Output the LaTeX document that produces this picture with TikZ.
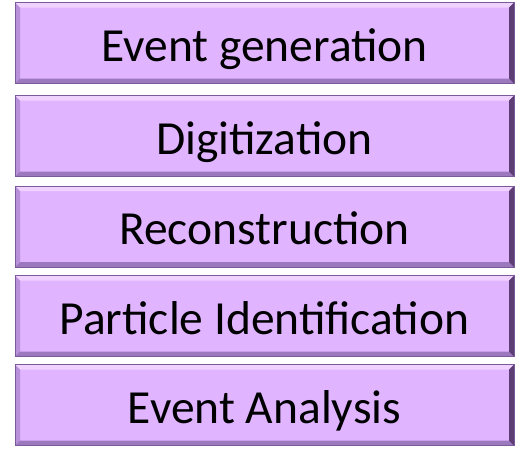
\documentclass[tikz,border=0pt]{standalone}
\usepackage{fontspec}
\setmainfont{Carlito}
\usetikzlibrary{calc}
\definecolor{boxfill}{HTML}{E0B4FF}
\definecolor{beveltop}{HTML}{F0D2FF}
\definecolor{bevelleft}{HTML}{B890DA}
\definecolor{bevelbottom}{HTML}{9C78BE}
\definecolor{bevelright}{HTML}{5C3E74}
\definecolor{boxedge}{HTML}{7A5A98}
\tikzset{
  stagebox/.style={
    rectangle, minimum width=499pt, minimum height=81pt, inner sep=0pt,
    text height=36pt, text depth=0pt,
    fill=boxfill, draw=boxedge, line width=0.6pt,
    font=\fontsize{47.5}{52}\selectfont, text=black,
    path picture={
      \path (path picture bounding box.north west) coordinate (pnw)
            (path picture bounding box.north east) coordinate (pne)
            (path picture bounding box.south west) coordinate (psw)
            (path picture bounding box.south east) coordinate (pse);
      \fill[beveltop] (pnw) -- (pne) -- ($(pne)+(-5pt,-5pt)$) -- ($(pnw)+(5pt,-5pt)$) -- cycle;
      \fill[bevelleft] (pnw) -- ($(pnw)+(5pt,-5pt)$) -- ($(psw)+(5pt,5pt)$) -- (psw) -- cycle;
      \fill[bevelbottom] (psw) -- ($(psw)+(5pt,5pt)$) -- ($(pse)+(-5pt,5pt)$) -- (pse) -- cycle;
      \fill[bevelright] (pne) -- (pse) -- ($(pse)+(-5pt,5pt)$) -- ($(pne)+(-5pt,-5pt)$) -- cycle;
    }
  }
}
\begin{document}
\begin{tikzpicture}[x=1pt,y=1pt]
\useasboundingbox (0,0) rectangle (517,-448);
\node[stagebox] (gen) at (264.5,-43) {Event generation};
\node[stagebox] (dig) at (264.5,-136) {Digitization};
\node[stagebox] (rec) at (264.5,-226.5) {Reconstruction};
\node[stagebox] (pid) at (264.5,-316) {Particle Identification};
\node[stagebox] (ana) at (264.5,-405) {Event Analysis};
\end{tikzpicture}
\end{document}
